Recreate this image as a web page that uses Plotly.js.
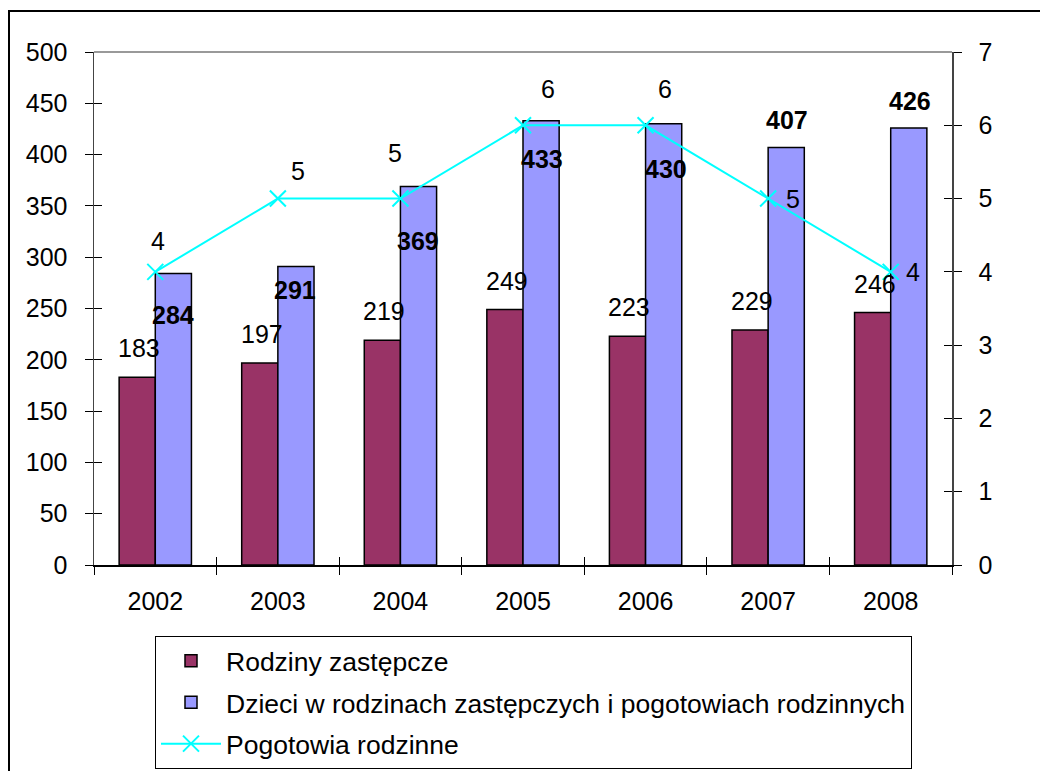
<!DOCTYPE html>
<html>
<head>
<meta charset="utf-8">
<script src="https://cdn.plot.ly/plotly-3.0.1.min.js"></script>
<style>html,body{margin:0;padding:0;background:#fff;}#chart{width:1040px;height:771px;}</style>
</head>
<body>
<div id="chart"></div>
<script>
const years = ['2002','2003','2004','2005','2006','2007','2008'];
const rodziny = [183, 197, 219, 249, 223, 229, 246];
const dzieci = [284, 291, 369, 433, 430, 407, 426];
const pogotowia = [4, 5, 5, 6, 6, 5, 4];

const names = ['Rodziny zastępcze', 'Dzieci w rodzinach zastępczych i pogotowiach rodzinnych', 'Pogotowia rodzinne'];

// label placement offsets (pixels), as manually placed in the original chart
const dzieciLabelDx = [0, -1, -1, 1, 2, 1, 1];
const dzieciLabelDy = [-41, -24, -55, -38, -45, 27, 27];
const pogLabelDx = [3, 20, -5, 25, 19, 25, 22];
const pogLabelDy = [31, 28, 46, 36, 36, 0, 0];

const FONT = 'Liberation Sans, Arial, sans-serif';
const FS = 25;
const W = 1040, H = 771;
const margin = {l: 94, r: 88, t: 52, b: 206, autoexpand: false};
const bargap = 0.41;
const plotW = W - margin.l - margin.r;
const plotH = H - margin.t - margin.b;
const catPx = plotW / years.length;
const barShift = (1 - bargap) * catPx / 4;

const traces = [
  {type: 'bar', name: names[0], x: years, y: rodziny, legendgroup: 'g1',
   marker: {color: '#993366', line: {color: '#000', width: 1.5}}, hoverinfo: 'skip'},
  {type: 'bar', name: names[1], x: years, y: dzieci, legendgroup: 'g2',
   marker: {color: '#9999FF', line: {color: '#000', width: 1.5}}, hoverinfo: 'skip'},
  {type: 'scatter', mode: 'lines+markers', name: names[2], x: years, y: pogotowia, yaxis: 'y2', legendgroup: 'g3',
   line: {color: '#00FFFF', width: 2},
   marker: {symbol: 'x-thin', size: 16, color: '#00FFFF', line: {color: '#00FFFF', width: 2}},
   hoverinfo: 'skip'},
  // invisible helper traces so the inner-tick overlay axes are drawn
  {type: 'scatter', mode: 'markers', x: years, y: rodziny, xaxis: 'x2', yaxis: 'y3',
   marker: {opacity: 0}, showlegend: false, hoverinfo: 'skip'},
  {type: 'scatter', mode: 'markers', x: years, y: pogotowia, xaxis: 'x2', yaxis: 'y4',
   marker: {opacity: 0}, showlegend: false, hoverinfo: 'skip'}
];

const annotations = [];
years.forEach((yr, i) => {
  annotations.push({x: i, y: rodziny[i], xref: 'x', yref: 'y', text: String(rodziny[i]),
    showarrow: false, xshift: -barShift + 2, yshift: 29, yanchor: 'middle', xanchor: 'center',
    font: {family: FONT, size: FS, color: '#000'}});
  annotations.push({x: i, y: dzieci[i], xref: 'x', yref: 'y', text: '<b>' + dzieci[i] + '</b>',
    showarrow: false, xshift: barShift + dzieciLabelDx[i], yshift: dzieciLabelDy[i], yanchor: 'middle', xanchor: 'center',
    font: {family: FONT, size: FS, color: '#000'}});
  annotations.push({x: i, y: pogotowia[i], xref: 'x', yref: 'y2', text: String(pogotowia[i]),
    showarrow: false, xshift: pogLabelDx[i], yshift: pogLabelDy[i], yanchor: 'middle', xanchor: 'center',
    font: {family: FONT, size: FS, color: '#000'}});
});

const axisFont = {family: FONT, size: FS, color: '#000'};
const layout = {
  width: W, height: H, margin: margin,
  paper_bgcolor: '#fff', plot_bgcolor: '#fff',
  barmode: 'group', bargap: bargap, bargroupgap: 0,
  showlegend: true,
  font: {family: FONT, size: FS, color: '#000'},
  xaxis: {type: 'category', range: [-0.5, 6.5], tickson: 'boundaries', ticks: 'outside', ticklen: 8,
    tickcolor: '#000', tickwidth: 1, showline: true, linecolor: '#000', linewidth: 1.5,
    showgrid: false, zeroline: false, tickfont: axisFont, ticklabelstandoff: 13, fixedrange: true},
  xaxis2: {type: 'category', overlaying: 'x', anchor: 'y', range: [-0.5, 6.5], tickson: 'boundaries',
    ticks: 'inside', ticklen: 8, tickcolor: '#000', tickwidth: 1, showticklabels: false,
    showline: false, showgrid: false, zeroline: false, side: 'bottom'},
  yaxis: {range: [0, 500], dtick: 50, ticks: 'outside', ticklen: 8, tickcolor: '#000', tickwidth: 1,
    showline: true, linecolor: '#444', linewidth: 1.5, showgrid: false, zeroline: false,
    tickfont: axisFont, ticklabelstandoff: 12, fixedrange: true},
  yaxis2: {range: [0, 7], dtick: 1, overlaying: 'y', side: 'right', ticks: 'outside', ticklen: 8,
    tickcolor: '#000', tickwidth: 1, showline: true, linecolor: '#444', linewidth: 1.5,
    showgrid: false, zeroline: false, tickfont: axisFont, ticklabelstandoff: 12, fixedrange: true},
  yaxis3: {range: [0, 500], dtick: 50, overlaying: 'y', side: 'left', anchor: 'x', ticks: 'inside', ticklen: 8,
    tickcolor: '#000', tickwidth: 1, showticklabels: false, showline: false, showgrid: false, zeroline: false},
  yaxis4: {range: [0, 7], dtick: 1, overlaying: 'y', side: 'right', anchor: 'x', ticks: 'inside', ticklen: 8,
    tickcolor: '#000', tickwidth: 1, showticklabels: false, showline: false, showgrid: false, zeroline: false},
  legend: {x: (155 - margin.l) / plotW, xanchor: 'left',
    y: -(636 - (H - margin.b)) / plotH, yanchor: 'top',
    orientation: 'v', bordercolor: '#000', borderwidth: 1, bgcolor: '#fff',
    font: {family: FONT, size: 26.5, color: '#000'}, itemwidth: 60, traceorder: 'grouped',
    tracegroupgap: 4},
  annotations: annotations,
  shapes: [
    {type: 'line', xref: 'paper', yref: 'paper', x0: 0, x1: 1, y0: 1, y1: 1,
     line: {color: '#777', width: 1.5}},
    {type: 'rect', xref: 'paper', yref: 'paper',
     x0: (9 - margin.l) / plotW, x1: 1.3,
     y0: -0.6, y1: ((H - margin.b) - 11) / plotH,
     line: {color: '#000', width: 2}, fillcolor: 'rgba(0,0,0,0)', layer: 'below'}
  ]
};

Plotly.newPlot('chart', traces, layout, {staticPlot: true, displayModeBar: false});
</script>
</body>
</html>
